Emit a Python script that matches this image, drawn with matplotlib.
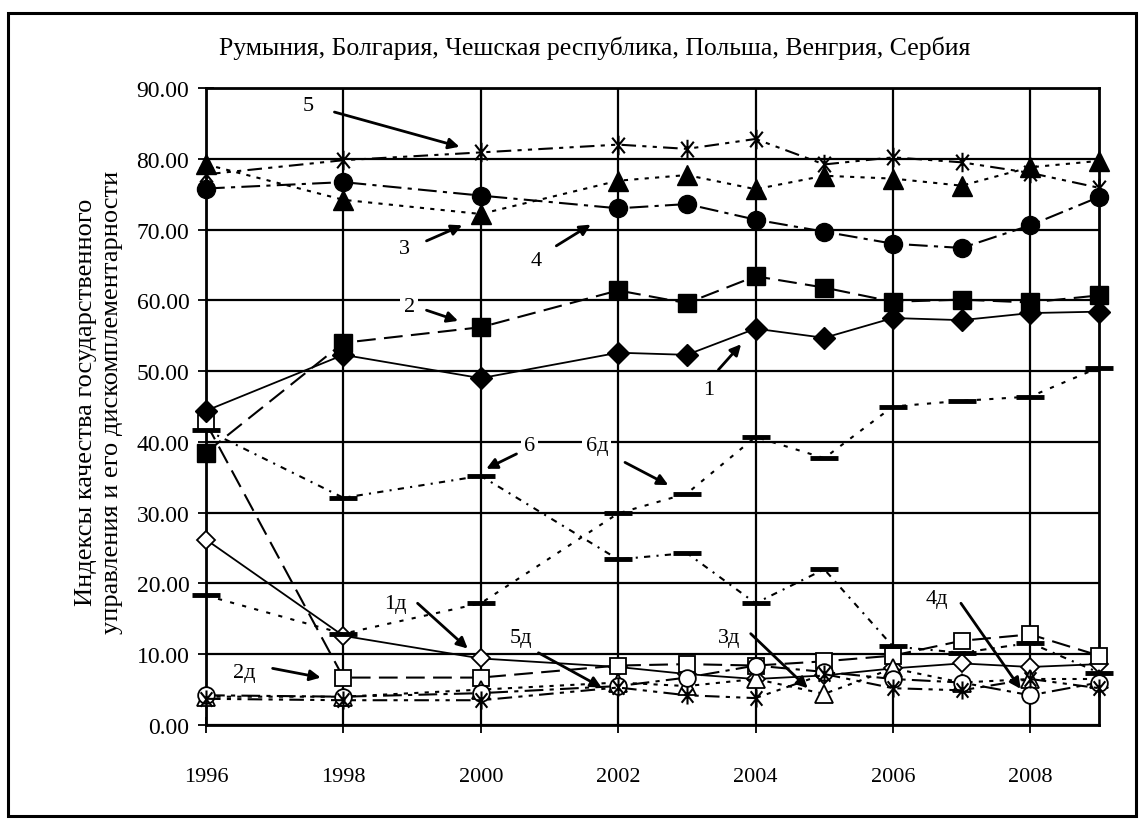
import matplotlib
matplotlib.use('Agg')
import matplotlib.pyplot as plt
from matplotlib.path import Path
from matplotlib.patches import Rectangle

plt.rcParams['font.family'] = ['Liberation Serif', 'DejaVu Serif']

years = [1996, 1998, 2000, 2002, 2003, 2004, 2005, 2006, 2007, 2008, 2009]
s1 = [44.4, 52.3, 49.0, 52.6, 52.3, 56.0, 54.7, 57.5, 57.2, 58.2, 58.4]
s2 = [38.5, 54.0, 56.2, 61.4, 59.6, 63.4, 61.8, 59.8, 60.1, 59.7, 60.7]
s3 = [79.2, 74.2, 72.2, 76.9, 77.7, 75.7, 77.6, 77.2, 76.2, 78.8, 79.7]
s4 = [75.8, 76.7, 74.8, 73.0, 73.6, 71.4, 69.7, 68.0, 67.4, 70.6, 74.6]
s5 = [77.8, 79.8, 80.9, 82.0, 81.4, 82.8, 79.2, 80.2, 79.5, 78.0, 75.9]
s6 = [41.7, 32.1, 35.2, 23.4, 24.3, 17.2, 22.0, 11.1, 10.2, 11.6, 7.4]
d1 = [26.2, 12.6, 9.4, 8.2, 7.2, 6.5, 7.0, 8.0, 8.7, 8.2, 8.6]
d2 = [42.7, 6.7, 6.7, 8.4, 8.6, 8.4, 9.0, 9.8, 11.9, 12.8, 9.8]
d3 = [4.0, 4.0, 5.0, 6.0, 5.5, 6.5, 4.4, 8.0, 6.0, 6.5, 6.5]
d4 = [4.2, 4.0, 4.5, 5.5, 6.7, 8.4, 7.5, 6.5, 6.0, 4.2, 6.0]
d5 = [3.7, 3.5, 3.5, 5.3, 4.2, 3.8, 7.2, 5.2, 4.9, 6.5, 5.2]
d6 = [18.3, 12.9, 17.2, 29.9, 32.7, 40.7, 37.7, 45.0, 45.8, 46.4, 50.5]

x_ticks = [1996, 1998, 2000, 2002, 2004, 2006, 2008]
y_ticks = [0, 10, 20, 30, 40, 50, 60, 70, 80, 90]
title = "Румыния, Болгария, Чешская республика, Польша, Венгрия, Сербия"
ylabel = "Индексы качества государственного\nуправления и его дискомплементарности"

# labels: (text, label_x, label_y, tail_x, tail_y, tip_x, tip_y)
notes = [
    ("5", 1997.49, 87.5, 1997.87, 86.6, 1999.69, 81.7),
    ("3", 1998.89, 67.3, 1999.21, 68.4, 1999.73, 70.6),
    ("2", 1998.96, 59.1, 1999.21, 58.6, 1999.67, 57.1),
    ("4", 2000.81, 65.6, 2001.10, 67.7, 2001.60, 70.7),
    ("1", 2003.32, 47.4, 2003.46, 50.2, 2003.79, 53.8),
    ("6", 2000.71, 39.5, 2000.52, 38.3, 2000.08, 36.2),
    ("6д", 2001.69, 39.5, 2002.10, 37.1, 2002.73, 33.9),
    ("1д", 1998.76, 17.2, 1999.08, 17.2, 1999.81, 10.8),
    ("2д", 1996.55, 7.4, 1996.97, 8.0, 1997.67, 6.7),
    ("5д", 2000.59, 12.3, 2000.84, 10.2, 2001.76, 5.3),
    ("3д", 2003.61, 12.3, 2003.93, 12.9, 2004.76, 5.2),
    ("4д", 2006.64, 17.9, 2006.99, 17.2, 2007.86, 5.1),
]

star = Path([(-0.65, -0.8), (0.65, 0.8), (-0.65, 0.8), (0.65, -0.8), (0, -1), (0, 1)],
            [Path.MOVETO, Path.LINETO, Path.MOVETO, Path.LINETO, Path.MOVETO, Path.LINETO])

fig = plt.figure(figsize=(11.42, 8.2), dpi=100)
fig.patches.append(Rectangle((8/1142, 0.004), 1128/1142, 1 - 14/820 - 0.004,
                             transform=fig.transFigure, fill=False,
                             edgecolor='black', linewidth=2.2))
ax = fig.add_axes([206/1142, 1 - 726/820, (1099 - 206)/1142, (726 - 89)/820])

lw = 1.5
W = 'white'
K = 'black'
common = dict(clip_on=False)
ax.plot(years, d1, color=K, lw=1.3, ls='-', marker='D', ms=9, mfc=W, mec=K, mew=1.3, zorder=3, **common)
ax.plot(years, d2, color=K, lw=lw, ls=(0, (9, 4)), marker='s', ms=12, mfc=W, mec=K, mew=1.3, zorder=3, **common)
ax.plot(years, d3, color=K, lw=lw, ls=(0, (2, 3)), marker='^', ms=13, mfc=W, mec=K, mew=1.3, zorder=3, **common)
ax.plot(years, d4, color=K, lw=lw, ls=(0, (9, 3, 2, 3)), marker='o', ms=12, mfc=W, mec=K, mew=1.3, zorder=3, **common)
ax.plot(years, d5, color=K, lw=lw, ls=(0, (7, 3, 2, 3, 2, 3)), marker=star, ms=13, mfc='none', mec=K, mew=1.5, zorder=3, **common)
ax.plot(years, d6, color=K, lw=lw, ls=(0, (2, 4)), marker='_', ms=20, mec=K, mew=3.5, zorder=3, **common)

ax.plot(years, s1, color=K, lw=1.3, ls='-', marker='D', ms=11, mfc=K, mec=K, zorder=4, **common)
ax.plot(years, s2, color=K, lw=lw, ls=(0, (9, 4)), marker='s', ms=13, mfc=K, mec=K, zorder=4, **common)
ax.plot(years, s3, color=K, lw=lw, ls=(0, (2, 3)), marker='^', ms=14, mfc=K, mec=K, zorder=4, **common)
ax.plot(years, s4, color=K, lw=lw, ls=(0, (9, 3, 2, 3)), marker='o', ms=13, mfc=K, mec=K, zorder=4, **common)
ax.plot(years, s5, color=K, lw=lw, ls=(0, (7, 3, 2, 3, 2, 3)), marker=star, ms=14, mfc='none', mec=K, mew=1.5, zorder=4, **common)
ax.plot(years, s6, color=K, lw=lw, ls=(0, (3, 3, 1, 3)), marker='_', ms=20, mec=K, mew=3.5, zorder=4, **common)

ax.set_xlim(1996, 2009)
ax.set_ylim(0, 90)
ax.set_xticks(x_ticks)
ax.set_xticklabels([str(v) for v in x_ticks])
ax.set_yticks(y_ticks)
ax.set_yticklabels([f"{v:.2f}" for v in y_ticks])
ax.grid(True, color=K, lw=1.6, zorder=1)
ax.set_axisbelow(True)
for sp in ax.spines.values():
    sp.set_linewidth(2)
ax.tick_params(axis='both', direction='inout', length=12, width=1.3, color=K)
ax.tick_params(axis='x', pad=24, labelsize=16)
ax.tick_params(axis='y', pad=6, labelsize=17)

for txt, lx, ly, tx, ty, px, py in notes:
    ax.text(lx, ly, txt, fontsize=16, ha='center', va='center', zorder=6,
            bbox=dict(boxstyle='square,pad=0.15', fc=W, ec='none'))
    ax.annotate('', xy=(px, py), xytext=(tx, ty), zorder=6,
                arrowprops=dict(arrowstyle='-|>', color=K, lw=2, mutation_scale=16,
                                shrinkA=0, shrinkB=0))

fig.text(595/1142, 1 - 48/820, title, fontsize=18.5, ha='center', va='center')
fig.text(99/1142, 1 - 402/820, ylabel, fontsize=19, ha='center', va='center',
         rotation=90, linespacing=1.25)

fig.savefig('out.png', dpi=100)
